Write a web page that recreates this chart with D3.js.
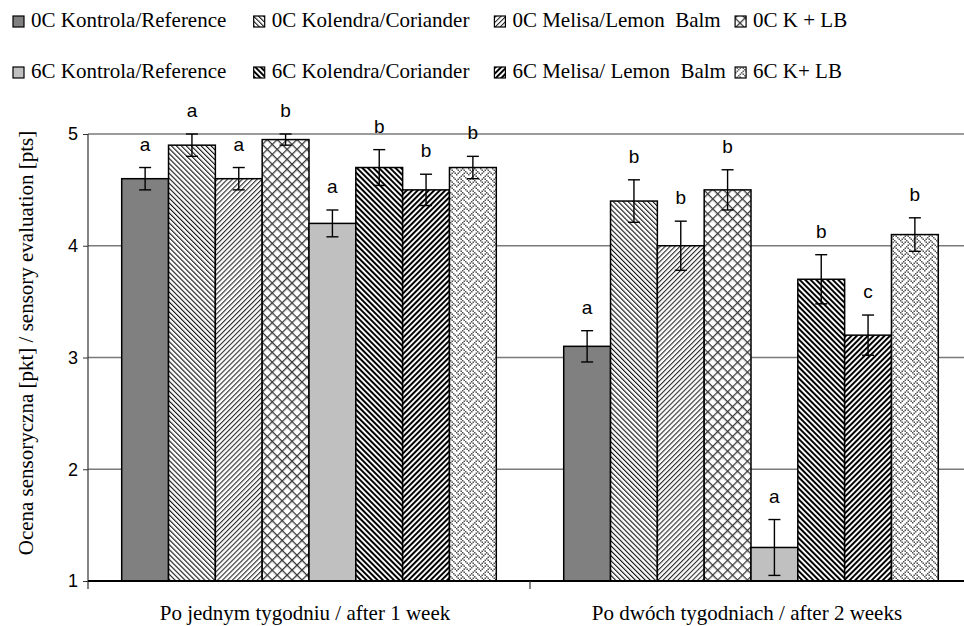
<!DOCTYPE html>
<html>
<head>
<meta charset="utf-8">
<script src="https://cdn.jsdelivr.net/npm/d3@7"></script>
<style>
  body { margin: 0; background: #fff; }
  svg { display: block; }
  .serif { font-family: "Liberation Serif", "Times New Roman", serif; white-space: pre; }
  .sans { font-family: "Liberation Sans", Arial, sans-serif; }
</style>
</head>
<body>
<div id="vis"></div>
<script>
const WIDTH = 964;
const HEIGHT = 626;
const MARGINS = { left: 88, right: -8, top: 134, bottom: 45 };

// data
const categories = ["Po jednym tygodniu / after 1 week", "Po dwóch tygodniach / after 2 weeks"];
const series = [
  "0C Kontrola/Reference", "0C Kolendra/Coriander", "0C Melisa/Lemon  Balm", "0C K + LB",
  "6C Kontrola/Reference", "6C Kolendra/Coriander", "6C Melisa/ Lemon  Balm", "6C K+ LB"
];
const week1Means = [4.6, 4.9, 4.6, 4.95, 4.2, 4.7, 4.5, 4.7];
const week2Means = [3.1, 4.4, 4.0, 4.5, 1.3, 3.7, 3.2, 4.1];
const week1Err = [0.1, 0.1, 0.1, 0.05, 0.12, 0.16, 0.14, 0.1];
const week2Err = [0.14, 0.19, 0.22, 0.18, 0.25, 0.22, 0.18, 0.15];
const week1Letters = ["a", "a", "a", "b", "a", "b", "b", "b"];
const week2Letters = ["a", "b", "b", "b", "a", "b", "c", "b"];
const yTicks = [1, 2, 3, 4, 5];

const means = [week1Means, week2Means];
const errs = [week1Err, week2Err];
const letters = [week1Letters, week2Letters];

const table = [];
categories.forEach((c, ci) => {
  series.forEach((s, si) => {
    table.push({ cat: c, ser: s, si: si, v: means[ci][si], e: errs[ci][si], l: letters[ci][si] });
  });
});

const svg = d3.select("#vis").append("svg")
  .attr("width", WIDTH)
  .attr("height", HEIGHT);

// ---- fill patterns ----
const defs = svg.append("defs");

function stripes(id, size, lineW, angle, color) {
  const p = defs.append("pattern")
    .attr("id", id)
    .attr("patternUnits", "userSpaceOnUse")
    .attr("width", size)
    .attr("height", size)
    .attr("patternTransform", "rotate(" + angle + ")");
  p.append("rect").attr("width", size).attr("height", size).attr("fill", "#fff");
  p.append("rect").attr("width", lineW).attr("height", size).attr("fill", color);
}

function cross(id, size, lineW, color) {
  const p = defs.append("pattern")
    .attr("id", id)
    .attr("patternUnits", "userSpaceOnUse")
    .attr("width", size)
    .attr("height", size)
    .attr("patternTransform", "rotate(45)");
  p.append("rect").attr("width", size).attr("height", size).attr("fill", "#fff");
  p.append("rect").attr("width", lineW).attr("height", size).attr("fill", color);
  p.append("rect").attr("width", size).attr("height", lineW).attr("fill", color);
}

function bitmap(id, rows, px, color) {
  const p = defs.append("pattern")
    .attr("id", id)
    .attr("patternUnits", "userSpaceOnUse")
    .attr("width", 8 * px)
    .attr("height", 8 * px);
  p.append("rect").attr("width", 8 * px).attr("height", 8 * px).attr("fill", "#fff");
  rows.forEach((r, y) => {
    for (let x = 0; x < 8; x++) {
      if (r & (0x80 >> x)) {
        p.append("rect")
          .attr("x", x * px).attr("y", y * px)
          .attr("width", px).attr("height", px)
          .attr("fill", color);
      }
    }
  });
}

stripes("kol0", 3.5, 1.1, -45, "#111");
stripes("mel0", 3.5, 1.1, 45, "#2a2a2a");
cross("klb0", 7, 1.3, "#3a3a3a");
stripes("kol6", 3.9, 2.0, -45, "#000");
stripes("mel6", 3.9, 2.0, 45, "#000");
bitmap("klb6", [0x88, 0x54, 0x22, 0x45, 0x88, 0x14, 0x22, 0x51], 1.5, "#555");

const fills = ["#808080", "url(#kol0)", "url(#mel0)", "url(#klb0)",
               "#c0c0c0", "url(#kol6)", "url(#mel6)", "url(#klb6)"];

// ---- scales ----
const X_SCALE = d3.scaleBand()
  .domain(categories)
  .range([MARGINS.left, WIDTH - MARGINS.right])
  .padding(0);

const X_INNER = d3.scaleBand()
  .domain(series)
  .range([0, X_SCALE.bandwidth()])
  .paddingInner(0)
  .paddingOuter(0.72);

const Y_SCALE = d3.scaleLinear()
  .domain([1, 5])
  .range([HEIGHT - MARGINS.bottom, MARGINS.top]);

// gridlines
svg.append("g")
  .selectAll("line")
  .data(yTicks.filter((t) => t > 1))
  .enter()
  .append("line")
  .attr("x1", MARGINS.left)
  .attr("x2", WIDTH - MARGINS.right)
  .attr("y1", (d) => Y_SCALE(d))
  .attr("y2", (d) => Y_SCALE(d))
  .attr("stroke", "#7a7a7a")
  .attr("stroke-width", 1.3);

// bars
svg.append("g")
  .selectAll("rect")
  .data(table)
  .enter()
  .append("rect")
  .attr("x", (d) => X_SCALE(d.cat) + X_INNER(d.ser))
  .attr("y", (d) => Y_SCALE(d.v))
  .attr("width", X_INNER.bandwidth())
  .attr("height", (d) => Y_SCALE(1) - Y_SCALE(d.v))
  .attr("fill", (d) => fills[d.si])
  .attr("stroke", "#000")
  .attr("stroke-width", 1.5);

// error bars
const eb = svg.append("g").attr("stroke", "#000").attr("stroke-width", 1.4);
const cx = (d) => X_SCALE(d.cat) + X_INNER(d.ser) + X_INNER.bandwidth() / 2;
eb.selectAll(".stem").data(table).enter().append("line")
  .attr("x1", cx).attr("x2", cx)
  .attr("y1", (d) => Y_SCALE(d.v + d.e))
  .attr("y2", (d) => Y_SCALE(d.v - d.e));
eb.selectAll(".capTop").data(table).enter().append("line")
  .attr("x1", (d) => cx(d) - 6).attr("x2", (d) => cx(d) + 6)
  .attr("y1", (d) => Y_SCALE(d.v + d.e))
  .attr("y2", (d) => Y_SCALE(d.v + d.e));
eb.selectAll(".capBot").data(table).enter().append("line")
  .attr("x1", (d) => cx(d) - 6).attr("x2", (d) => cx(d) + 6)
  .attr("y1", (d) => Y_SCALE(d.v - d.e))
  .attr("y2", (d) => Y_SCALE(d.v - d.e));

// significance letters
svg.append("g")
  .selectAll("text")
  .data(table)
  .enter()
  .append("text")
  .attr("class", "sans")
  .attr("x", cx)
  .attr("y", (d) => Y_SCALE(d.v + d.e) - 17)
  .attr("text-anchor", "middle")
  .attr("font-size", "19px")
  .attr("fill", "#000")
  .text((d) => d.l);

// y axis
const yAxis = svg.append("g")
  .attr("transform", "translate(" + MARGINS.left + ",0)")
  .call(d3.axisLeft(Y_SCALE).tickValues(yTicks).tickSize(5).tickFormat(d3.format("d")));
yAxis.select(".domain").remove();
yAxis.selectAll(".tick line").attr("stroke", "#333");
yAxis.selectAll(".tick text")
  .attr("class", "sans")
  .attr("font-size", "18px")
  .attr("fill", "#000")
  .attr("x", -10);
svg.append("line")
  .attr("x1", MARGINS.left).attr("x2", MARGINS.left)
  .attr("y1", Y_SCALE(5)).attr("y2", Y_SCALE(1) + 8)
  .attr("stroke", "#333").attr("stroke-width", 1.2);

// x axis
svg.append("line")
  .attr("x1", MARGINS.left).attr("x2", WIDTH - MARGINS.right)
  .attr("y1", Y_SCALE(1)).attr("y2", Y_SCALE(1))
  .attr("stroke", "#000").attr("stroke-width", 2);
svg.append("g")
  .selectAll("line")
  .data(categories.slice(1))
  .enter()
  .append("line")
  .attr("x1", (d) => X_SCALE(d)).attr("x2", (d) => X_SCALE(d))
  .attr("y1", Y_SCALE(1)).attr("y2", Y_SCALE(1) + 8)
  .attr("stroke", "#333").attr("stroke-width", 1.2);
svg.append("g")
  .selectAll("text")
  .data(categories)
  .enter()
  .append("text")
  .attr("class", "serif")
  .attr("x", (d) => X_SCALE(d) + X_SCALE.bandwidth() / 2 - 4)
  .attr("y", 620)
  .attr("text-anchor", "middle")
  .attr("font-size", "21px")
  .text((d) => d);

// y title
svg.append("text")
  .attr("class", "serif")
  .attr("transform", "translate(33," + (MARGINS.top + 209) + ") rotate(-90)")
  .attr("text-anchor", "middle")
  .attr("font-size", "21px")
  .text("Ocena sensoryczna [pkt] / sensory evaluation [pts]");

// legend
const legend = svg.append("g")
  .selectAll("g")
  .data(series)
  .enter()
  .append("g")
  .attr("transform", (d, i) => "translate(" + (13 + (i % 4) * 240.7) + "," + (i < 4 ? 27 : 78) + ")");
legend.append("rect")
  .attr("x", 0).attr("y", -11)
  .attr("width", 11).attr("height", 11)
  .attr("fill", (d, i) => fills[i])
  .attr("stroke", "#000")
  .attr("stroke-width", 1.2);
legend.append("text")
  .attr("class", "serif")
  .attr("x", 18)
  .attr("y", 0)
  .attr("font-size", "21px")
  .text((d) => d);
</script>
</body>
</html>
